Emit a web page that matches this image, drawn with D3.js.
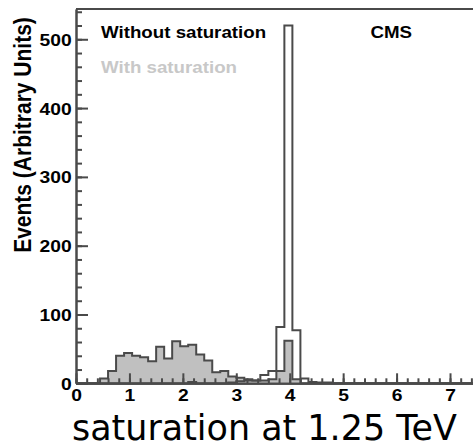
<!DOCTYPE html>
<html>
<head>
<meta charset="utf-8">
<script src="https://cdn.jsdelivr.net/npm/d3@7"></script>
<style>
  body { margin: 0; background: #fff; }
  svg { display: block; }
  .lbl { font-family: "Liberation Sans", Arial, sans-serif; font-weight: bold; }
</style>
</head>
<body>
<svg></svg>
<script>
var WIDTH = 473;
var HEIGHT = 446;
var STRETCH = 1.17; // the picture's text is a bit wider than normal

// histogram: 50 bins of 0.15 from 0 to 7.5
var binLo = 0, binWidth = 0.15;
var withSat = [0, 0, 0, 7, 18, 40, 44, 40, 38, 32,
               53, 36, 61, 54, 56, 42, 33, 16, 18, 10,
               8, 6, 4, 4, 6, 18, 62, 6, 0, 0,
               0, 0, 0, 0, 0, 0, 0, 0, 0, 0,
               0, 0, 0, 0, 0, 0, 0, 0, 0, 0];
var withoutSat = [0, 0, 0, 0, 0, 0, 0, 0, 0, 0,
                  0, 0, 0, 0, 2, 0, 0, 0, 0, 1,
                  3, 4, 4, 12, 18, 82, 520, 77, 7, 2,
                  1, 1, 0, 0, 0, 0, 0, 0, 0, 0,
                  0, 0, 0, 0, 0, 0, 0, 0, 0, 0];
var xMajor = [0, 1, 2, 3, 4, 5, 6, 7];
var yMajor = [0, 100, 200, 300, 400, 500];

var plotLeft = 76, plotTop = 9, plotBottom = 383.3;

var svg = d3.select("svg")
    .attr("width", WIDTH)
    .attr("height", HEIGHT);

var x = d3.scaleLinear().domain([0, 7.5]).range([plotLeft, plotLeft + 7.5 * 53.43]);
var y = d3.scaleLinear().domain([0, 544]).range([plotBottom, plotTop]);

function steps(vals) {
    var pts = vals.map(function(v, i) { return [binLo + i * binWidth, v]; });
    pts.push([binLo + vals.length * binWidth, vals[vals.length - 1]]);
    return pts;
}

// filled histogram (with saturation)
var area = d3.area()
    .curve(d3.curveStepAfter)
    .x(function(d) { return x(d[0]); })
    .y0(y(0))
    .y1(function(d) { return y(d[1]); });
var line = d3.line()
    .curve(d3.curveStepAfter)
    .x(function(d) { return x(d[0]); })
    .y(function(d) { return y(d[1]); });

svg.append("path")
    .attr("d", area(steps(withSat)))
    .attr("fill", "#c0c0c0");
svg.append("path")
    .attr("d", line(steps(withSat)))
    .attr("fill", "none")
    .attr("stroke", "#4a4a4a")
    .attr("stroke-width", 2);
// open histogram (without saturation)
svg.append("path")
    .attr("d", line(steps(withoutSat)))
    .attr("fill", "none")
    .attr("stroke", "#4a4a4a")
    .attr("stroke-width", 2);

// frame top
svg.append("line")
    .attr("x1", plotLeft).attr("x2", x(7.5))
    .attr("y1", plotTop).attr("y2", plotTop)
    .attr("stroke", "#4a4a4a").attr("stroke-width", 2);

// minor ticks
svg.append("g")
    .attr("transform", "translate(0," + plotBottom + ")")
    .call(d3.axisBottom(x).tickValues(d3.range(0, 7.6, 0.2)).tickSize(-5).tickSizeOuter(0).tickFormat(""));
svg.append("g")
    .attr("transform", "translate(" + plotLeft + ",0)")
    .call(d3.axisLeft(y).tickValues(d3.range(0, 544, 20)).tickSize(-6).tickSizeOuter(0).tickFormat(""));

// major ticks + labels
var xAxis = svg.append("g")
    .attr("transform", "translate(0," + plotBottom + ")")
    .call(d3.axisBottom(x).tickValues(xMajor).tickSize(-10).tickSizeOuter(0).tickPadding(6).tickFormat(d3.format("d")));
var yAxis = svg.append("g")
    .attr("transform", "translate(" + plotLeft + ",0)")
    .call(d3.axisLeft(y).tickValues(yMajor).tickSize(-12).tickSizeOuter(0).tickPadding(3.6).tickFormat(d3.format("d")));

svg.selectAll(".domain, .tick line")
    .attr("stroke", "#4a4a4a")
    .attr("stroke-width", 2);

svg.selectAll(".tick text")
    .attr("class", "lbl")
    .attr("font-size", 16.5)
    .attr("fill", "#000")
    .attr("transform", "scale(" + STRETCH + ",1)");
yAxis.selectAll(".tick text").attr("dy", "0.36em");

// legend text
function label(txt, px, py, size, color) {
    svg.append("text")
        .attr("class", "lbl")
        .attr("transform", "translate(" + px + "," + py + ") scale(" + STRETCH + ",1)")
        .attr("font-size", size)
        .attr("fill", color)
        .text(txt);
}
label("Without saturation", 101, 37.7, 16, "#000");
label("With saturation", 101, 72.7, 16, "#c8c8c8");
label("CMS", 370.5, 37.7, 16, "#000");

// y title
svg.append("text")
    .attr("class", "lbl")
    .attr("transform", "translate(31,135) scale(" + STRETCH + ",1) rotate(-90)")
    .attr("text-anchor", "middle")
    .attr("font-size", 21)
    .attr("fill", "#000")
    .text("Events (Arbitrary Units)");

// caption
svg.append("text")
    .attr("x", 72)
    .attr("y", 440)
    .attr("font-family", "'Comic Sans MS', 'DejaVu Sans', sans-serif")
    .attr("font-size", 35)
    .attr("textLength", 385)
    .attr("lengthAdjust", "spacingAndGlyphs")
    .attr("fill", "#000")
    .text("saturation at 1.25 TeV");
</script>
</body>
</html>
